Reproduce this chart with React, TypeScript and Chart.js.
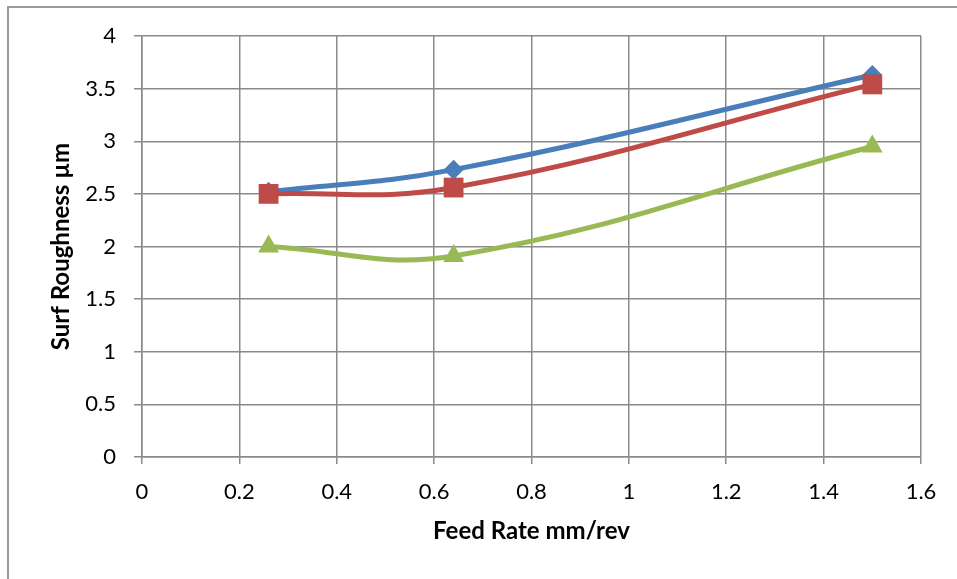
import { useEffect, useRef } from "react";
import { Chart, registerables } from "chart.js";

Chart.register(...registerables);

// Feed rate (mm/rev) on the x axis
const feedRates = [0.26, 0.64, 1.5];

// Surface roughness (µm) for the three cutting conditions
const roughnessBlue = [2.52, 2.73, 3.63];
const roughnessRed = [2.5, 2.56, 3.54];
const roughnessGreen = [2.0, 1.91, 2.95];

// Axis ticks
const xTickValues = [0, 0.2, 0.4, 0.6, 0.8, 1, 1.2, 1.4, 1.6];
const xTickLabels = ["0", "0.2", "0.4", "0.6", "0.8", "1", "1.2", "1.4", "1.6"];
const yTickValues = [0, 0.5, 1, 1.5, 2, 2.5, 3, 3.5, 4];
const yTickLabels = ["0", "0.5", "1", "1.5", "2", "2.5", "3", "3.5", "4"];

const FONT = "Lato, 'Open Sans', sans-serif";
const GRID = "#8a8a8a";

const toPoints = (ys: number[]) => feedRates.map((x, i) => ({ x, y: ys[i] }));

export default function App() {
  const canvasRef = useRef<HTMLCanvasElement | null>(null);

  useEffect(() => {
    const canvas = canvasRef.current;
    if (!canvas) return;

    const lineSet = (data: number[], color: string, style: string, radius: number, order: number) => ({
      data: toPoints(data),
      borderColor: color,
      backgroundColor: color,
      borderWidth: 5,
      pointStyle: style,
      pointRadius: radius,
      pointHoverRadius: radius,
      pointBorderWidth: 0,
      pointBackgroundColor: color,
      tension: 0.4,
      showLine: true,
      order,
    });

    const chart = new Chart(canvas, {
      type: "scatter",
      data: {
        datasets: [
          lineSet(roughnessBlue, "#4a7ebb", "rectRot", 10, 3),
          lineSet(roughnessRed, "#be4b48", "rect", 14, 2),
          lineSet(roughnessGreen, "#98b954", "triangle", 12, 1),
        ] as any,
      },
      options: {
        animation: false,
        responsive: false,
        events: [],
        layout: { padding: { top: 36, right: 36, left: 0, bottom: 0 } },
        plugins: {
          legend: { display: false },
          tooltip: { enabled: false },
        },
        scales: {
          x: {
            type: "linear",
            min: 0,
            max: 1.6,
            afterBuildTicks: (s: any) => {
              s.ticks = xTickValues.map((value) => ({ value }));
            },
            afterFit: (s: any) => {
              s.height = 122;
            },
            ticks: {
              callback: (_v: any, i: number) => xTickLabels[i],
              color: "#000",
              font: { family: FONT, size: 22 },
              padding: 15,
              maxRotation: 0,
            },
            grid: { color: GRID, lineWidth: 1.5, tickLength: 7 },
            border: { color: GRID, width: 1.5 },
            title: {
              display: true,
              text: "Feed Rate mm/rev",
              color: "#000",
              font: { family: FONT, size: 24, weight: "bold" },
              padding: { bottom: 33, top: 0 },
            },
          },
          y: {
            type: "linear",
            min: 0,
            max: 4,
            afterBuildTicks: (s: any) => {
              s.ticks = yTickValues.map((value) => ({ value }));
            },
            afterFit: (s: any) => {
              s.width = 142;
            },
            ticks: {
              callback: (_v: any, i: number) => yTickLabels[i],
              color: "#000",
              font: { family: FONT, size: 22 },
              padding: 18,
            },
            grid: { color: GRID, lineWidth: 1.5, tickLength: 8 },
            border: { color: GRID, width: 1.5 },
            title: {
              display: true,
              text: "Surf Roughness µm",
              color: "#000",
              font: { family: FONT, size: 24, weight: "bold" },
              padding: { top: 47, bottom: 0 },
            },
          },
        },
      } as any,
    });

    return () => chart.destroy();
  }, []);

  return (
    <div
      style={{
        position: "fixed",
        left: 0,
        top: 0,
        width: 957,
        height: 579,
        background: "#fff",
        overflow: "hidden",
      }}
    >
      <div
        style={{
          position: "absolute",
          left: 7,
          top: 6,
          width: 1000,
          height: 1000,
          borderLeft: "2px solid #9a9a9a",
          borderTop: "2px solid #9a9a9a",
        }}
      />
      <canvas
        ref={canvasRef}
        width={957}
        height={579}
        style={{ position: "absolute", left: 0, top: 0, width: 957, height: 579 }}
      />
    </div>
  );
}
